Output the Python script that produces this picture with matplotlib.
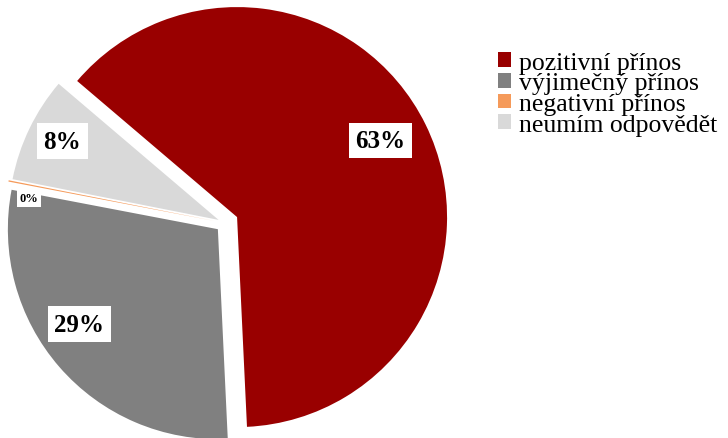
import matplotlib
matplotlib.use("Agg")
import matplotlib.pyplot as plt
import numpy as np

categories = ["pozitivní přínos", "výjimečný přínos", "negativní přínos", "neumím odpovědět"]
values = [62.9, 28.7, 0.1, 8.1]
colors = ["#990000", "#808080", "#f59a5a", "#d9d9d9"]
explode = [0.064, 0.045, 0.05, 0.034]
label_dist = [0.774, 0.80, 0.89, 0.833]
label_angle_shift = [2, -6.5, 4.0, -1]
label_size = [18, 18, 9, 18]

plt.rcParams['font.family'] = ['Liberation Serif', 'DejaVu Serif']

fig = plt.figure(figsize=(7.28, 4.39), dpi=100)
ax = fig.add_axes([0, 0, 1, 1])

wedges, texts, autotexts = ax.pie(
    values, colors=colors, explode=explode, startangle=139.6,
    counterclock=False, radius=1.0, autopct="%.0f%%", pctdistance=0.8,
    wedgeprops=dict(linewidth=0),
    textprops=dict(fontsize=18, fontweight='bold', color='black'))

for i, (w, t) in enumerate(zip(wedges, autotexts)):
    mid = np.deg2rad((w.theta1 + w.theta2) / 2 + label_angle_shift[i])
    c = w.center
    t.set_position((c[0] + label_dist[i] * np.cos(mid), c[1] + label_dist[i] * np.sin(mid)))
    t.set_fontsize(label_size[i])
    t.set_bbox(dict(facecolor='white', edgecolor='none', pad=4.5 if i != 2 else 2))

cx, cy, r = 225, 224, 210
ax.set_xlim(-cx / r, (728 - cx) / r)
ax.set_ylim(-(439 - cy) / r, cy / r)
ax.set_aspect('auto')
ax.axis('off')

leg = ax.legend(wedges, categories, loc='upper left', bbox_to_anchor=(0.684, 0.88),
                frameon=False, fontsize=18.5, handlelength=0.52, handleheight=0.52,
                handletextpad=0.3, labelspacing=-0.05, borderaxespad=0, borderpad=0)

fig.savefig("out.png", dpi=100)
